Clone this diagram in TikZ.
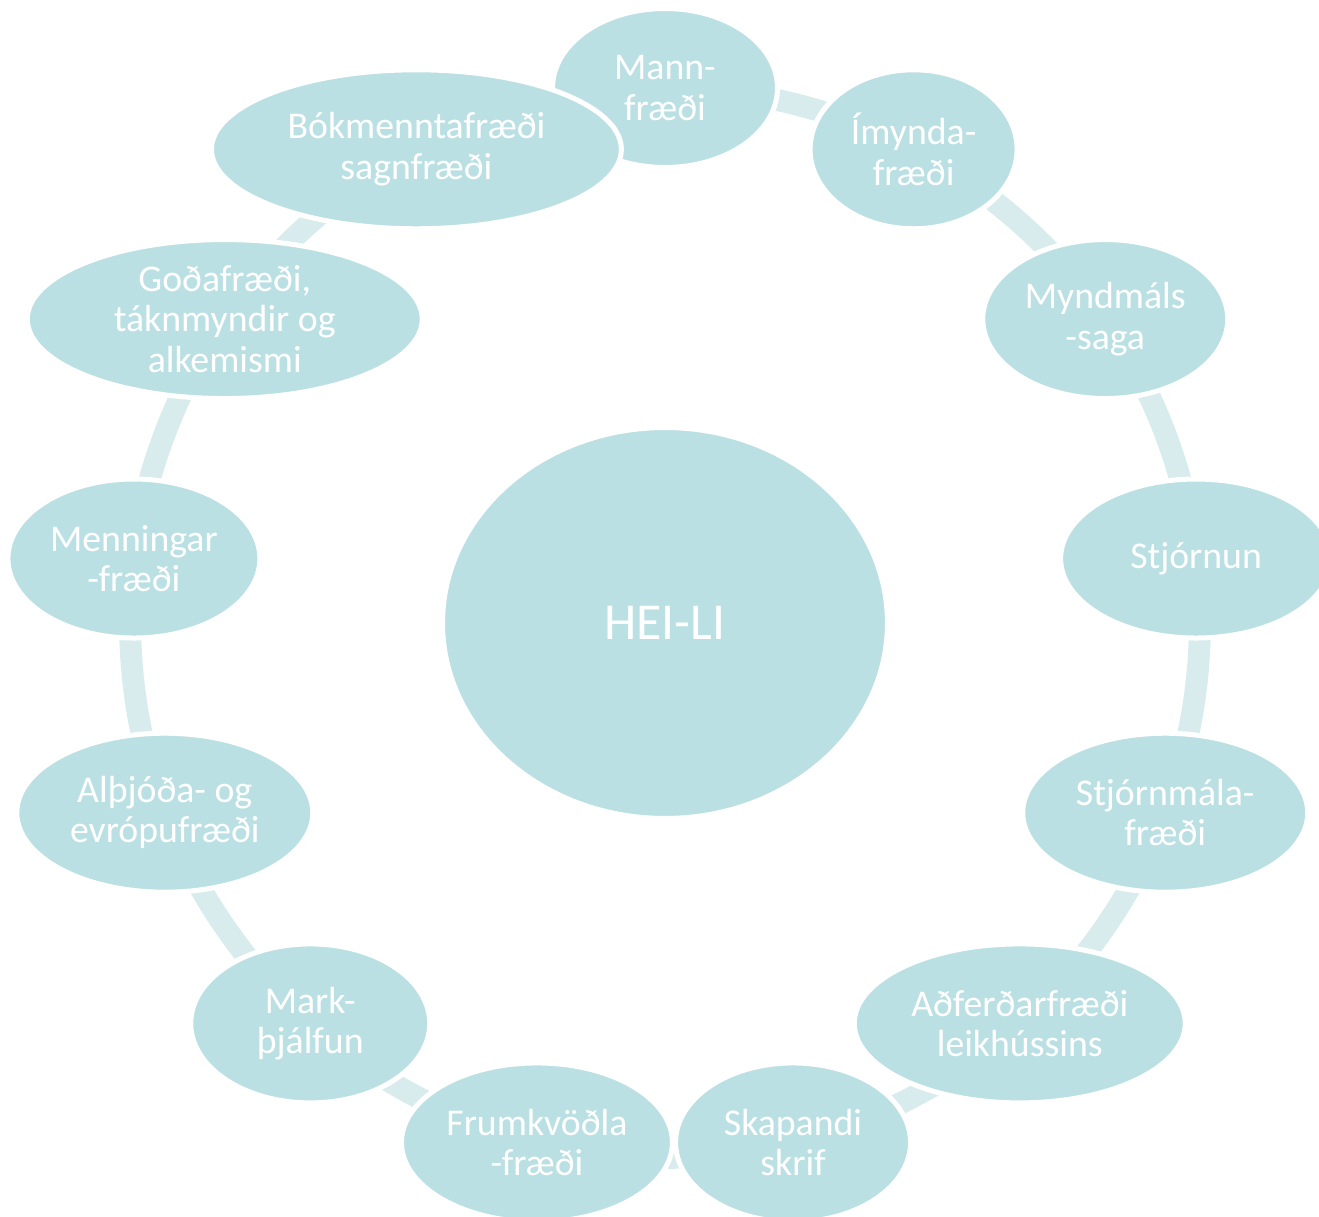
\documentclass[tikz,border=0pt]{standalone}
\usepackage{fontspec}
\setmainfont{Carlito}
\usetikzlibrary{shapes.geometric,backgrounds}
\definecolor{topicteal}{HTML}{BBE0E3}
\definecolor{ringteal}{HTML}{D8ECEE}

\begin{document}
\begin{tikzpicture}[
    x=0.02cm, y=0.02cm,
    topic/.style={ellipse, draw=white, line width=0.1cm, fill=topicteal, inner sep=0pt,
        minimum height=3.18cm, text=white, align=center,
        font=\fontsize{21.5}{23}\selectfont},
    hub/.style={ellipse, draw=white, line width=0.1cm, fill=topicteal, inner sep=0pt,
        minimum width=8.9cm, minimum height=7.82cm, text=white,
        font=\fontsize{29.5}{34}\selectfont},
    cycleline/.style={draw=ringteal, line width=0.44cm, bend left=13.85, looseness=0.86}
    ]
    \useasboundingbox (0,0) rectangle (1319,1217);
    \node (heili) [hub] at (665,594) {HEI-LI};
    \begin{scope}[shift={(665,594)}]
        \node (mann) [topic, minimum width=4.5cm] at (90:535) {Mann-\\fræði};
        \node (imynda) [topic, minimum width=4.14cm] at (62.31:535) {Ímynda-\\fræði};
        \node (myndmals) [topic, minimum width=4.9cm] at (34.62:535) {Myndmáls\\-saga};
        \node (stjornun) [topic, minimum width=5.42cm] at (6.92:535) {Stjórnun};
        \node (stjornmala) [topic, minimum width=5.7cm] at (-20.77:535) {Stjórnmála-\\fræði};
        \node (adferdar) [topic, minimum width=6.62cm] at (-48.46:535) {Aðferðarfræði\\leikhússins};
        \node (skapandi) [topic, minimum width=4.7cm] at (-76.15:535) {Skapandi\\skrif};
        \node (frumkvodla) [topic, minimum width=5.42cm] at (-103.85:535) {Frumkvöðla\\-fræði};
        \node (mark) [topic, minimum width=4.78cm] at (-131.54:535) {Mark-\\þjálfun};
        \node (althjoda) [topic, minimum width=5.92cm] at (-159.23:535) {Alþjóða- og\\evrópufræði};
        \node (menningar) [topic, minimum width=5.04cm] at (173.08:535) {Menningar\\-fræði};
        \node (godafraedi) [topic, minimum width=7.9cm] at (145.38:535) {Goðafræði,\\táknmyndir og\\alkemismi};
        \node (bokmennta) [topic, minimum width=8.2cm] at (117.69:535) {Bókmenntafræði\\sagnfræði};
    \end{scope}
    \begin{scope}[on background layer]
        \draw[cycleline] (mann.center) to (imynda.center);
        \draw[cycleline] (imynda.center) to (myndmals.center);
        \draw[cycleline] (myndmals.center) to (stjornun.center);
        \draw[cycleline] (stjornun.center) to (stjornmala.center);
        \draw[cycleline] (stjornmala.center) to (adferdar.center);
        \draw[cycleline] (adferdar.center) to (skapandi.center);
        \draw[cycleline] (skapandi.center) to (frumkvodla.center);
        \draw[cycleline] (frumkvodla.center) to (mark.center);
        \draw[cycleline] (mark.center) to (althjoda.center);
        \draw[cycleline] (althjoda.center) to (menningar.center);
        \draw[cycleline] (menningar.center) to (godafraedi.center);
        \draw[cycleline] (godafraedi.center) to (bokmennta.center);
        \draw[cycleline] (bokmennta.center) to (mann.center);
    \end{scope}
\end{tikzpicture}
\end{document}
